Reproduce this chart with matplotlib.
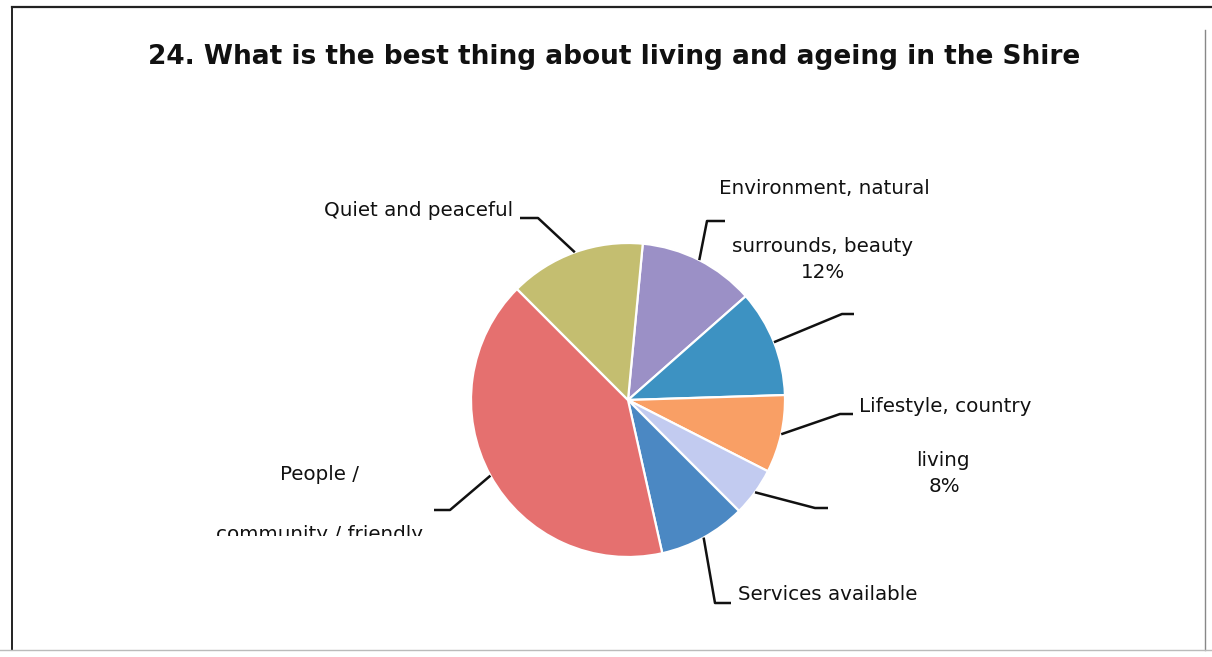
import matplotlib
matplotlib.use("Agg")
import numpy as np
import matplotlib.pyplot as plt
from matplotlib.patches import Rectangle

# Survey answers, clockwise from the top of the pie
categories = [
    "Environment, natural surrounds, beauty",
    "",
    "Lifestyle, country living",
    "",
    "Services available",
    "People / community / friendly",
    "Quiet and peaceful",
]
values = [12, 11, 8, 5, 9, 41, 14]
colors = ["#9b90c6", "#3d92c2", "#f99f65", "#c2cbf0", "#4b88c3", "#e5706f", "#c4be70"]
title = "24. What is the best thing about living and ageing in the Shire"

W, H = 1212, 657
fig = plt.figure(figsize=(W / 100, H / 100), dpi=100)
ax = fig.add_axes([0, 0, 1, 1])

center = (628, 400)
radius = 157
start_offset = 5.4  # degrees clockwise from 12 o'clock

wedges, _ = ax.pie(
    values,
    colors=colors,
    center=center,
    radius=radius,
    startangle=-90 + start_offset,
    counterclock=True,
    wedgeprops=dict(edgecolor="white", linewidth=1.6),
)
ax.set_xlim(0, W)
ax.set_ylim(H, 0)
ax.set_aspect("equal")
ax.axis("off")

FONT = ["DejaVu Sans"]
LBL = 14.3

# Leader line elbows / ends for each slice
leaders = {
    0: [(707, 221), (725, 221)],
    1: [(842, 314), (854, 314)],
    2: [(840, 414), (853, 414)],
    3: [(815, 508), (828, 508)],
    4: [(715, 603), (731, 603)],
    5: [(450, 510), (434, 510)],
    6: [(538, 218), (520, 218)],
}

for i, w in enumerate(wedges):
    mid = np.deg2rad((w.theta1 + w.theta2) / 2)
    sx = center[0] + radius * np.cos(mid)
    sy = center[1] + radius * np.sin(mid)
    pts = [(sx, sy)] + leaders[i]
    xs, ys = zip(*pts)
    ax.plot(xs, ys, color="#111111", lw=1.8, solid_capstyle="butt", zorder=5)

def pct(i):
    return f"{values[i]}%"

def label(x, y, s, ha="center", va="center"):
    return ax.text(x, y, s, ha=ha, va=va, fontsize=LBL, family=FONT, color="#111111", zorder=6)

# Environment
label(824, 188, "Environment, natural")
label(822, 246, "surrounds, beauty")
label(823, 273, pct(0))
# Lifestyle
label(859, 406, "Lifestyle, country", ha="left")
label(943, 461, "living")
label(944, 487, pct(2))
# Services
label(738, 594, categories[4], ha="left")
# Quiet
label(513, 211, categories[6], ha="right")
# People (second line runs into the bottom of the label box and is cut off)
label(319, 475, "People /")
label(319, 540, "community / friendly", va="baseline")
ax.add_patch(Rectangle((190, 536), 260, 14, facecolor="white", edgecolor="none", zorder=7))

# Title
ax.text(614, 57, title, ha="center", va="center", fontsize=19, fontweight="bold",
        family=FONT, color="#111111")

# Chart frame
ax.plot([12, 1212], [7, 7], color="#222222", lw=1.6)
ax.plot([12, 12], [7, 650], color="#222222", lw=1.4)
ax.plot([1205, 1205], [30, 650], color="#888888", lw=1.0)
ax.plot([0, 1212], [650, 650], color="#bbbbbb", lw=1.0)

fig.savefig("out.png", dpi=100)
